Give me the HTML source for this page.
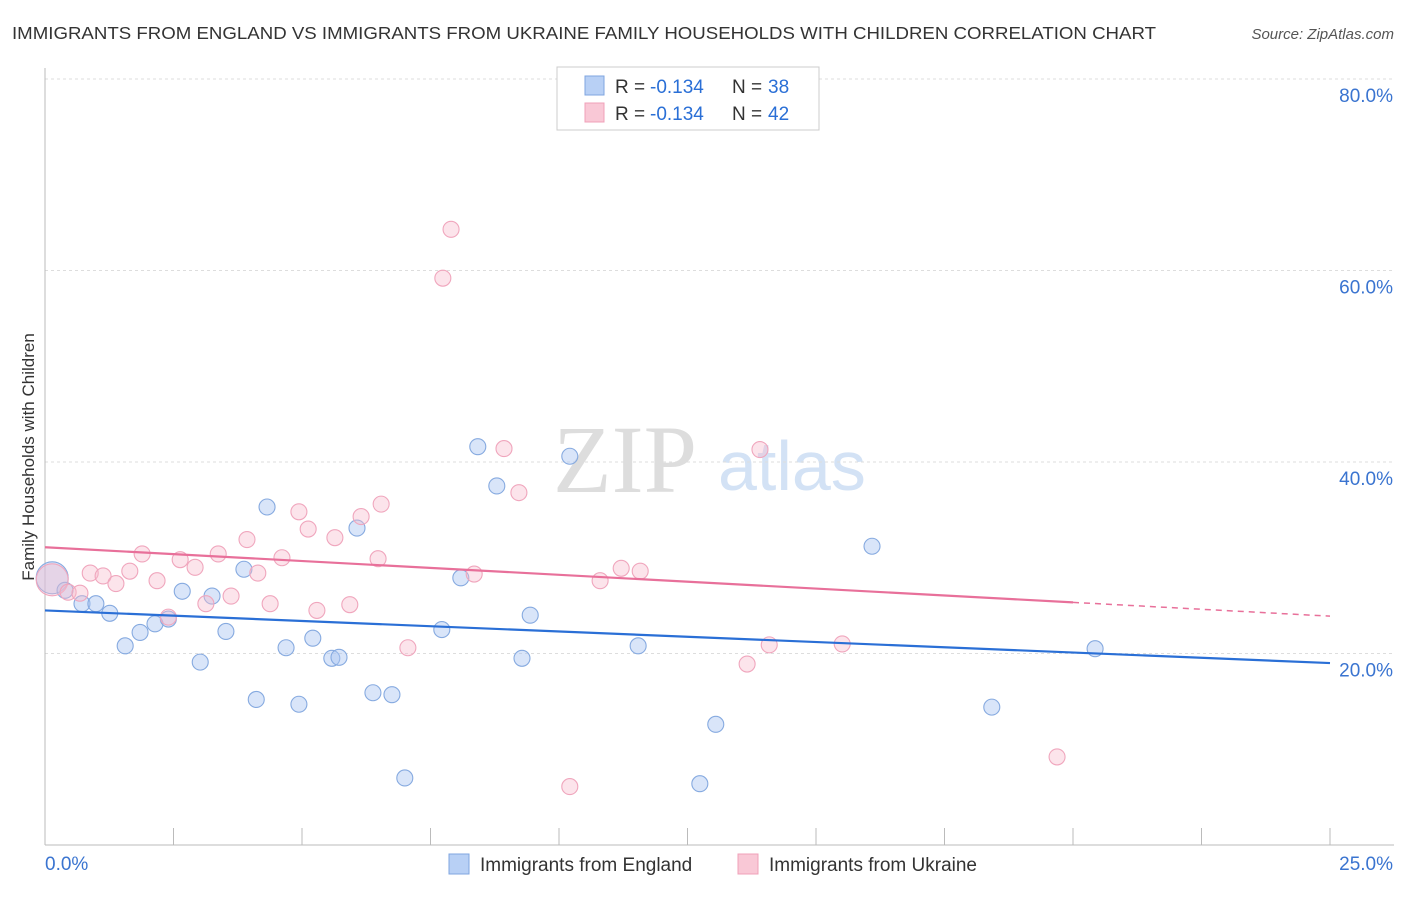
<!DOCTYPE html>
<html><head><meta charset="utf-8"><style>
body{margin:0;background:#fff;font-family:"Liberation Sans",sans-serif;}
</style></head><body>
<svg id="chart" width="1406" height="892" xmlns="http://www.w3.org/2000/svg" style="font-family:'Liberation Sans',sans-serif">
<text x="12" y="39" font-size="17.5" fill="#333" textLength="1144" lengthAdjust="spacingAndGlyphs">IMMIGRANTS FROM ENGLAND VS IMMIGRANTS FROM UKRAINE FAMILY HOUSEHOLDS WITH CHILDREN CORRELATION CHART</text>
<text x="1394" y="39" font-size="15" fill="#555" font-style="italic" text-anchor="end">Source: ZipAtlas.com</text>
<g>
<text x="553" y="492" font-size="96" fill="#ddd" font-family="Liberation Serif,serif">ZIP</text>
<text x="718" y="490" font-size="70" fill="#d3e2f5">atlas</text>
</g>
<g id="grid"></g>
<g id="axes"></g>
<text transform="translate(34,457) rotate(-90)" font-size="17" fill="#333" text-anchor="middle">Family Households with Children</text>
<g id="marks"></g>
<g>
<rect x="557" y="67" width="262" height="63" fill="#fff" stroke="#ccc"/>
<rect x="585" y="76" width="19" height="19" fill="#b8d0f5" stroke="#7fa6e0"/>
<text x="615" y="93" font-size="19" fill="#333">R = </text><text x="650" y="93" font-size="19" fill="#2a6fd6">-0.134</text>
<text x="732" y="93" font-size="19" fill="#333">N = </text><text x="768" y="93" font-size="19" fill="#2a6fd6">38</text>
<rect x="585" y="103" width="19" height="19" fill="#f9c8d6" stroke="#f0a0b8"/>
<text x="615" y="120" font-size="19" fill="#333">R = </text><text x="650" y="120" font-size="19" fill="#2a6fd6">-0.134</text>
<text x="732" y="120" font-size="19" fill="#333">N = </text><text x="768" y="120" font-size="19" fill="#2a6fd6">42</text>
</g>
<g>
<rect x="449" y="854" width="20" height="20" fill="#b8d0f5" stroke="#7fa6e0"/>
<text x="480" y="871" font-size="19" fill="#333">Immigrants from England</text>
<rect x="738" y="854" width="20" height="20" fill="#f9c8d6" stroke="#f0a0b8"/>
<text x="769" y="871" font-size="19" fill="#333">Immigrants from Ukraine</text>
</g>
</svg>
<script>
const englandX=[0.14,0.39,0.72,0.99,1.26,1.56,1.85,2.14,2.40,2.67,3.02,3.25,3.52,3.87,4.11,4.32,4.69,4.94,5.21,5.58,5.72,6.07,6.38,6.75,7.00,7.72,8.09,8.42,8.79,9.28,9.44,10.21,11.54,12.74,13.05,16.09,18.42,20.43];
const englandY=[27.9,26.6,25.2,25.2,24.2,20.8,22.2,23.1,23.6,26.5,19.1,26.0,22.3,28.8,15.2,35.3,20.6,14.7,21.6,19.5,19.6,33.1,15.9,15.7,7.0,22.5,27.9,41.6,37.5,19.5,24.0,40.6,20.8,6.4,12.6,31.2,14.4,20.5];
const ukraineX=[0.14,0.45,0.68,0.88,1.13,1.38,1.65,1.89,2.18,2.40,2.63,2.92,3.13,3.37,3.62,3.93,4.14,4.38,4.61,4.94,5.12,5.29,5.64,5.93,6.15,6.48,6.54,7.06,7.74,7.90,8.35,8.93,9.22,10.21,10.80,11.21,11.58,13.66,13.91,14.09,15.51,19.69];
const ukraineY=[27.7,26.4,26.3,28.4,28.1,27.3,28.6,30.4,27.6,23.8,29.8,29.0,25.2,30.4,26.0,31.9,28.4,25.2,30.0,34.8,33.0,24.5,32.1,25.1,34.3,29.9,35.6,20.6,59.2,64.3,28.3,41.4,36.8,6.1,27.6,28.9,28.6,18.9,41.3,20.9,21.0,9.2];
const englandTrend=[24.5,19.0];
const ukraineTrend=[31.1,23.9];
const ukraineSolidEnd=20;
const yTicks=[20,40,60,80];
const xTickLabels=["0.0%","25.0%"];
const NS="http://www.w3.org/2000/svg";
const X=v=>45+v*51.4, Y=v=>845-v*9.575;
function mk(t,a,p){const e=document.createElementNS(NS,t);for(const k in a)e.setAttribute(k,a[k]);p.appendChild(e);return e;}
const grid=document.getElementById('grid'),axes=document.getElementById('axes'),marks=document.getElementById('marks');
yTicks.forEach(v=>{
 const l=mk('line',{x1:45,x2:1394,y1:Y(v),y2:Y(v),stroke:'#ddd','stroke-dasharray':'3,3'},grid);
 
 
 const t=mk('text',{x:1393,y:Y(v)+23,'font-size':19,fill:'#3a74d0','text-anchor':'end'},axes);
 t.textContent=v.toFixed(1)+'%';
 
 
});
const ax=mk('line',{x1:45,x2:1394,y1:845,y2:845,stroke:'#bbb'},axes);


const ay=mk('line',{x1:45,x2:45,y1:68,y2:845,stroke:'#bbb'},axes);


for(let i=0;i<=10;i++){const tk=mk('line',{x1:X(i*2.5),x2:X(i*2.5),y1:828,y2:845,stroke:'#bbb'},axes);
 
 }
const t0=mk('text',{x:45,y:870,'font-size':19,fill:'#3a74d0'},axes);t0.textContent=xTickLabels[0];


const t1=mk('text',{x:1393,y:870,'font-size':19,fill:'#3a74d0','text-anchor':'end'},axes);t1.textContent=xTickLabels[1];


function pts(xs,ys,fill,stroke,name){xs.forEach((x,i)=>{const c=mk('circle',{cx:X(x),cy:Y(ys[i]),r:i===0?16:8,fill,stroke,'stroke-width':1.1},marks);
 
 });}
pts(englandX,englandY,'rgba(170,198,242,0.45)','#86aae0','england-point');
pts(ukraineX,ukraineY,'rgba(247,188,206,0.4)','#f0a6bd','ukraine-point');
const bl=mk('line',{x1:X(0),y1:Y(englandTrend[0]),x2:X(25),y2:Y(englandTrend[1]),stroke:'#2a6fd6','stroke-width':2.2},marks);


const pm=ukraineTrend[0]+(ukraineTrend[1]-ukraineTrend[0])*ukraineSolidEnd/25;
const pl=mk('line',{x1:X(0),y1:Y(ukraineTrend[0]),x2:X(ukraineSolidEnd),y2:Y(pm),stroke:'#e8709a','stroke-width':2.2},marks);


const pd=mk('line',{x1:X(ukraineSolidEnd),y1:Y(pm),x2:X(25),y2:Y(ukraineTrend[1]),stroke:'#e8709a','stroke-width':1.5,'stroke-dasharray':'6,5'},marks);


</script>
</body></html>
